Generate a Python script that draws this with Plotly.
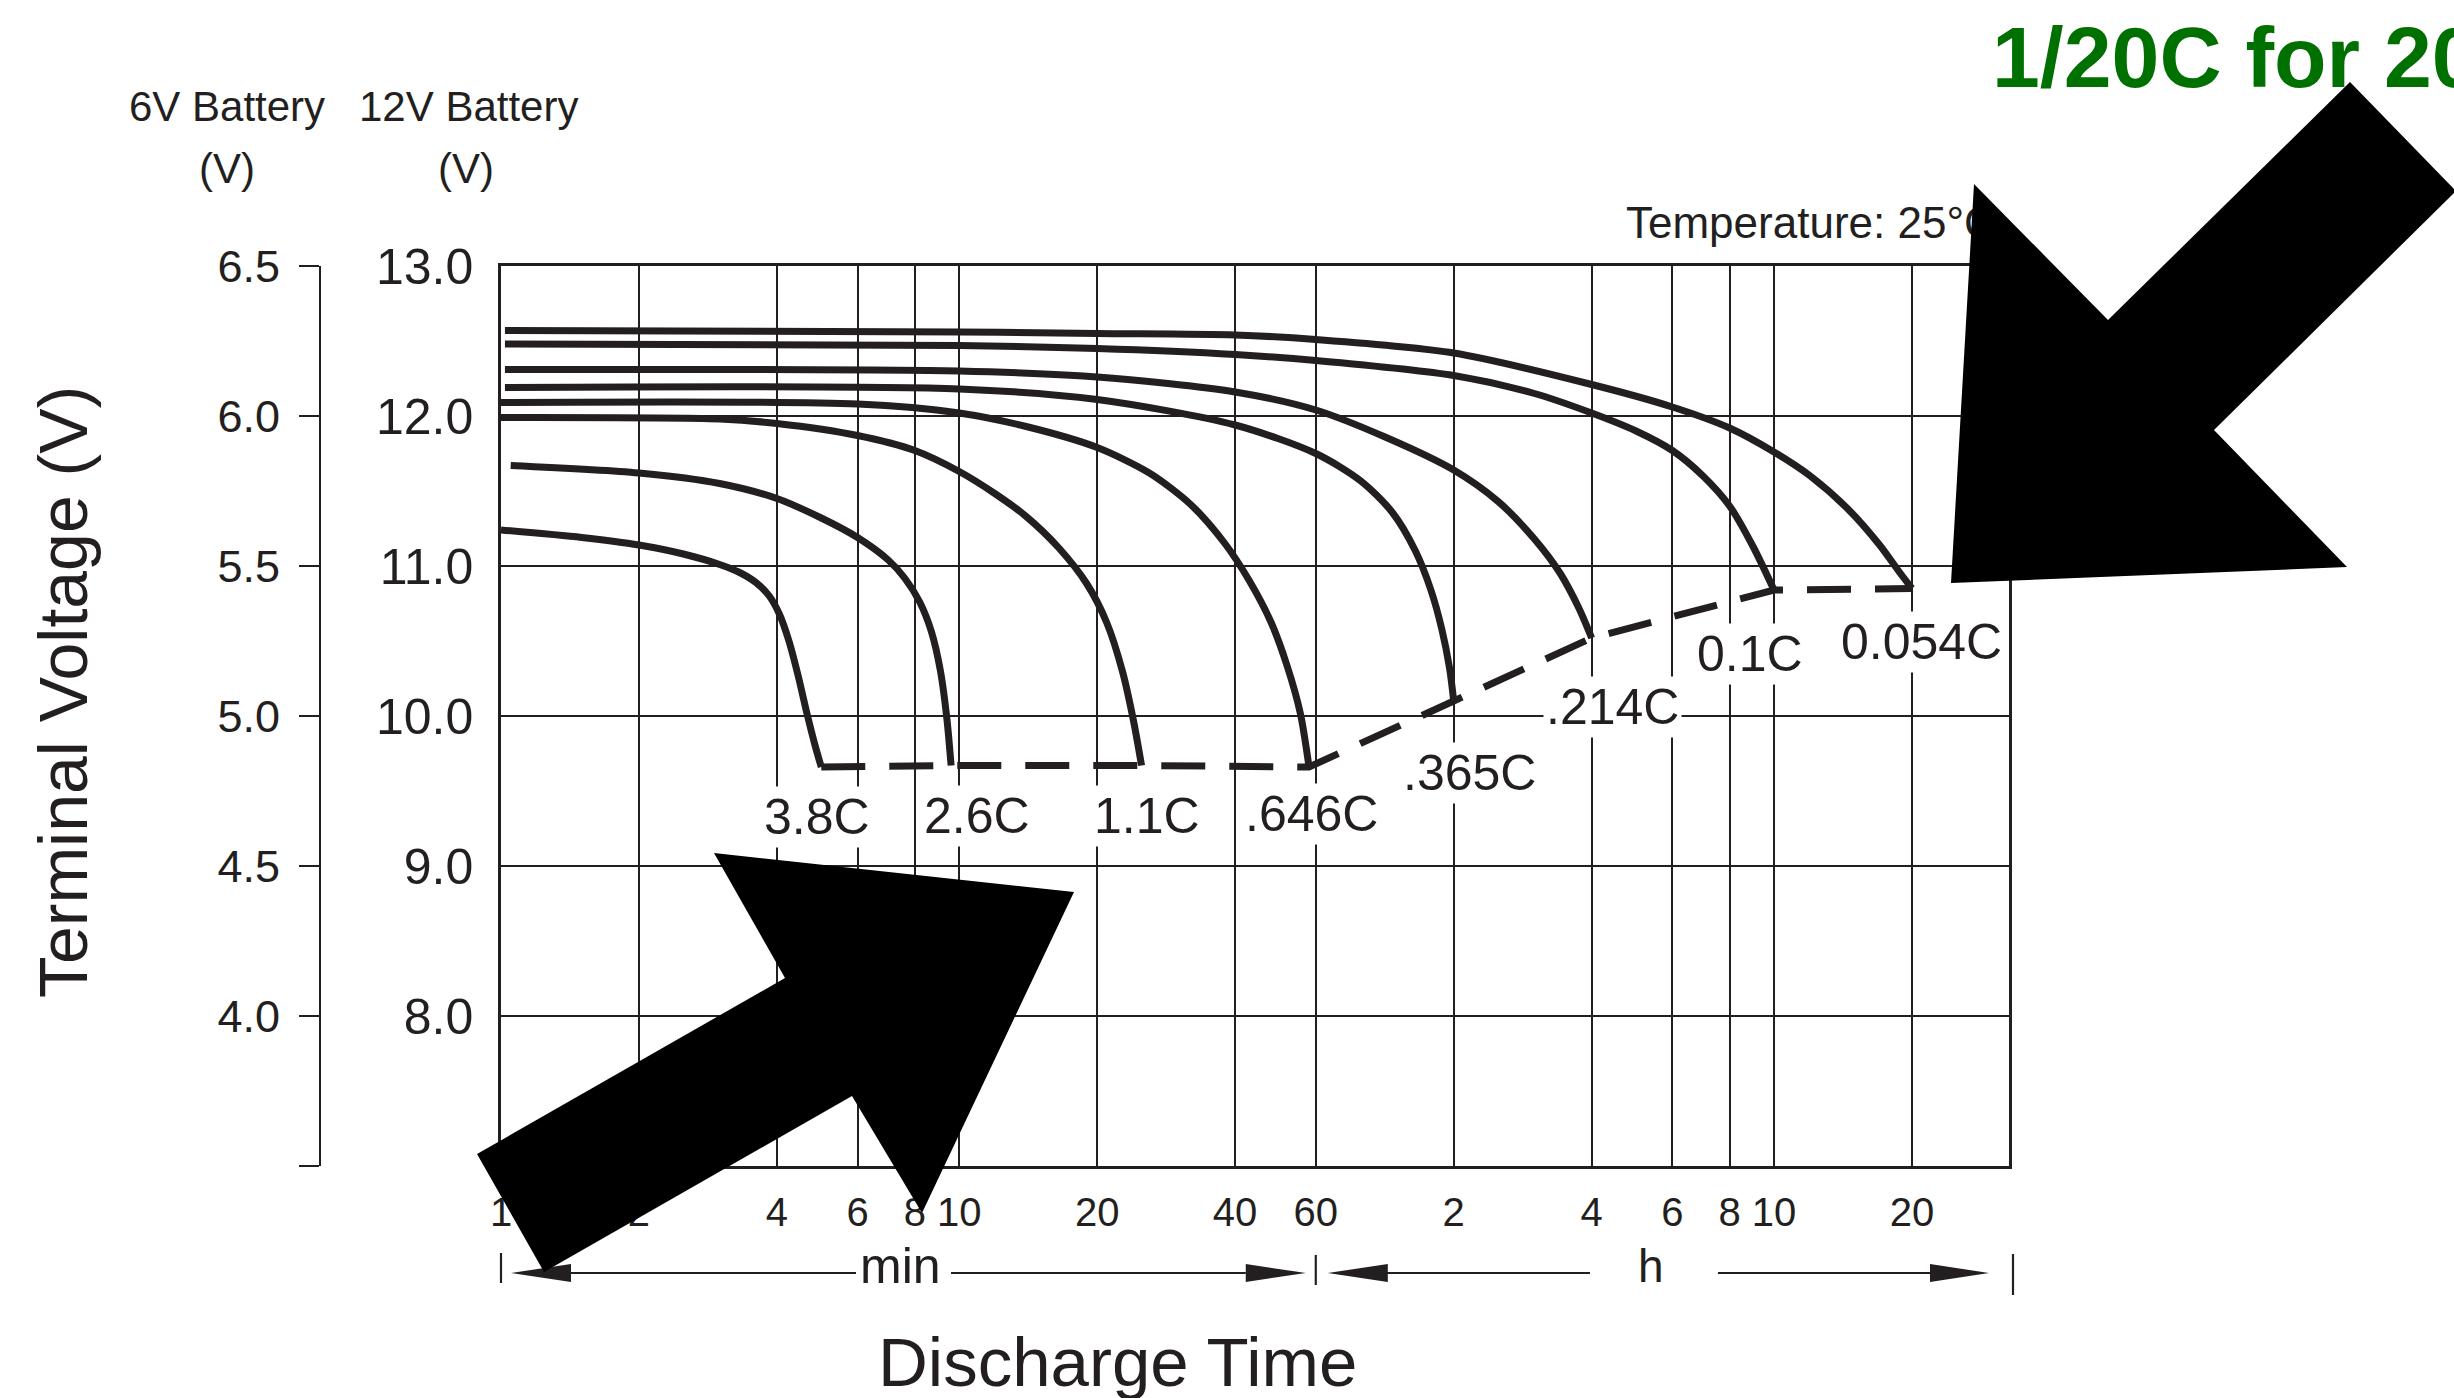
import math
import plotly.graph_objects as go

W, H = 2454, 1398
INK = "#231f20"
FONT = "Liberation Sans, Arial, sans-serif"

# Discharge curves of a 12 V battery: time (min) and terminal voltage (V)
rates = ["3.8C", "2.6C", "1.1C", ".646C", ".365C", ".214C", "0.1C", "0.054C"]

t_3_8 = [1.0, 1.5, 2.0, 2.5, 3.0, 3.3, 3.6, 3.85, 4.05, 4.25, 4.45, 4.65, 4.85, 5.0]
v_3_8 = [11.24, 11.19, 11.14, 11.08, 11.01, 10.96, 10.89, 10.80, 10.68, 10.50, 10.27, 10.02, 9.80, 9.66]

t_2_6 = [1.05, 2.0, 3.0, 4.0, 5.0, 6.0, 7.0, 7.6, 8.2, 8.7, 9.1, 9.4, 9.6]
v_2_6 = [11.67, 11.62, 11.55, 11.45, 11.32, 11.19, 11.04, 10.92, 10.76, 10.56, 10.30, 9.98, 9.67]

t_1_1 = [1.0, 3.0, 4.0, 6.0, 8.0, 10.0, 12.0, 14.0, 16.5, 19.0, 21.0, 22.7, 24.0, 25.0]
v_1_1 = [11.99, 11.98, 11.95, 11.87, 11.77, 11.63, 11.48, 11.33, 11.12, 10.88, 10.62, 10.30, 9.97, 9.67]

t_646 = [1.0, 6.0, 10.0, 14.0, 20.0, 26.0, 32.0, 38.0, 43.0, 48.0, 52.0, 55.5, 58.0]
v_646 = [12.09, 12.08, 12.02, 11.93, 11.79, 11.62, 11.41, 11.15, 10.90, 10.62, 10.33, 10.02, 9.66]

t_365 = [1.02, 10.0, 20.0, 40.0, 60.0, 75.0, 88.0, 99.0, 107.0, 113.0, 117.5, 120.0]
v_365 = [12.19, 12.18, 12.11, 11.94, 11.75, 11.57, 11.36, 11.10, 10.84, 10.58, 10.32, 10.10]

t_214 = [1.02, 10.0, 20.0, 40.0, 60.0, 85.0, 120.0, 150.0, 180.0, 205.0, 225.0, 240.0]
v_214 = [12.31, 12.30, 12.26, 12.16, 12.04, 11.86, 11.64, 11.43, 11.18, 10.95, 10.72, 10.52]

t_0_1 = [1.02, 10.0, 20.0, 40.0, 60.0, 120.0, 180.0, 240.0, 300.0, 360.0, 420.0, 480.0, 540.0, 600.0]
v_0_1 = [12.48, 12.47, 12.45, 12.41, 12.37, 12.27, 12.15, 12.02, 11.90, 11.77, 11.60, 11.40, 11.13, 10.84]

t_054 = [1.02, 10.0, 20.0, 40.0, 60.0, 120.0, 240.0, 360.0, 480.0, 600.0, 720.0, 870.0, 1020.0, 1120.0, 1200.0]
v_054 = [12.57, 12.56, 12.55, 12.54, 12.51, 12.42, 12.21, 12.06, 11.92, 11.76, 11.60, 11.38, 11.14, 10.97, 10.85]

curve_t = [t_3_8, t_2_6, t_1_1, t_646, t_365, t_214, t_0_1, t_054]
curve_v = [v_3_8, v_2_6, v_1_1, v_646, v_365, v_214, v_0_1, v_054]

# Time axis ticks (minutes), labelled in min then h
tick_min = [1, 2, 4, 6, 8, 10, 20, 40, 60, 120, 240, 360, 480, 600, 1200]
tick_txt = ["1", "2", "4", "6", "8", "10", "20", "40", "60", "2", "4", "6", "8", "10", "20"]

v12_ticks = [8, 9, 10, 11, 12, 13]
v6_ticks = [3.5, 4.0, 4.5, 5.0, 5.5, 6.0, 6.5]

# plot area in pixels
X0, X1 = 501, 2009
Y_TOP, Y_BOT = 266, 1166
XR = [0, 3.291]
YR = [7, 13]


def px(x):
    return x / W


def py(y):
    return 1 - y / H


def t2px(t):
    return X0 + (math.log10(t) - XR[0]) / (XR[1] - XR[0]) * (X1 - X0)


fig = go.Figure()

for tt, vv in zip(curve_t, curve_v):
    fig.add_trace(go.Scatter(x=tt, y=vv, mode="lines",
                             line=dict(color=INK, width=7, shape="spline", smoothing=0.8),
                             hoverinfo="skip", showlegend=False))

# end-of-discharge line through the last point of every curve
end_t = [tt[-1] for tt in curve_t]
end_v = [vv[-1] for vv in curve_v]
fig.add_trace(go.Scatter(x=end_t, y=end_v, mode="lines",
                         line=dict(color=INK, width=7, dash="44px,24px"),
                         hoverinfo="skip", showlegend=False))

# binds the 6 V scale
fig.add_trace(go.Scatter(x=[], y=[], yaxis="y2", showlegend=False, hoverinfo="skip"))

# temperature note: drawn on a hidden pixel-scaled strip above the chart so
# that the pointer arrow (a shape above the trace layer) overlaps it
fig.add_trace(go.Scatter(x=[1626], y=[227], mode="text", xaxis="x2", yaxis="y3",
                         text=["Temperature: 25°C"], textposition="middle right",
                         textfont=dict(family=FONT, size=44, color=INK),
                         cliponaxis=False, hoverinfo="skip", showlegend=False))

# rate labels under each end point
label_shift = [(-4, -50), (26, -50), (5, -50), (2, -47), (16, -72), (21, -69), (-24, -64), (10, -53)]
annotations = []
for name, t, v, (dx, dy) in zip(rates, end_t, end_v, label_shift):
    annotations.append(dict(x=math.log10(t), y=v, xref="x", yref="y", text=name,
                            showarrow=False, xshift=dx, yshift=dy,
                            font=dict(family=FONT, size=50, color=INK),
                            bgcolor="white", borderpad=2))


def text(x, y, s, size, color=INK, xanchor="center", angle=0, bold=False):
    if bold:
        s = "<b>" + s + "</b>"
    annotations.append(dict(x=px(x), y=py(y), xref="paper", yref="paper", text=s,
                            showarrow=False, xanchor=xanchor, yanchor="middle",
                            textangle=angle, font=dict(family=FONT, size=size, color=color)))


text(227, 106, "6V Battery", 42)
text(227, 169, "(V)", 42)
text(468, 106, "12V Battery", 42)
text(466, 169, "(V)", 42)
text(63, 692, "Terminal Voltage (V)", 68, angle=-90)
text(1117, 1362, "Discharge Time", 69)
text(900, 1266, "min", 50)
text(1651, 1266, "h", 46)
text(1990, 57, "1/20C for 20 hours", 86, color="#007000", xanchor="left", bold=True)

shapes = []


def poly(points, color="#000000"):
    d = "M " + " L ".join(f"{px(x):.5f},{py(y):.5f}" for x, y in points) + " Z"
    shapes.append(dict(type="path", path=d, xref="paper", yref="paper",
                       fillcolor=color, line=dict(width=0), layer="above"))


def seg(x0, y0, x1, y1, w=2.2):
    shapes.append(dict(type="line", x0=px(x0), y0=py(y0), x1=px(x1), y1=py(y1),
                       xref="paper", yref="paper", line=dict(color=INK, width=w)))


# min / h brackets below the time axis
YB = 1273
b1, b2, b3 = t2px(1), t2px(60), X1 + 4
seg(b1, 1253, b1, 1283)
seg(b2, 1255, b2, 1285)
seg(b3, 1254, b3, 1295)
seg(b1 + 65, YB, 856, YB)
seg(951, YB, b2 - 70, YB)
seg(b2 + 70, YB, 1590, YB)
seg(1718, YB, b3 - 80, YB)
poly([(b1 + 10, YB), (b1 + 70, YB - 9), (b1 + 70, YB + 9)], INK)
poly([(b2 - 10, YB), (b2 - 70, YB - 9), (b2 - 70, YB + 9)], INK)
poly([(b2 + 12, YB), (b2 + 72, YB - 9), (b2 + 72, YB + 9)], INK)
poly([(b3 - 24, YB), (b3 - 83, YB - 9), (b3 - 83, YB + 9)], INK)

# two large pointer arrows
poly([(477, 1154), (785, 978), (714, 853), (1074, 892), (922, 1213), (852, 1096), (544, 1272)])
poly([(1951, 583), (1974, 184), (2108, 320), (2350, 82), (2456, 191), (2214, 430), (2347, 567)])

fig.update_layout(
    width=W, height=H, autosize=False,
    margin=dict(l=0, r=0, t=0, b=0, pad=0),
    paper_bgcolor="white", plot_bgcolor="white",
    showlegend=False,
    annotations=annotations, shapes=shapes,
    xaxis=dict(type="log", range=XR, domain=[px(X0), px(X1)], automargin=False,
               tickvals=tick_min, ticktext=tick_txt, ticks="",
               showgrid=True, gridcolor=INK, gridwidth=1.8,
               showline=True, linecolor=INK, linewidth=2.5, mirror=True,
               zeroline=False, ticklabelstandoff=9,
               tickfont=dict(family=FONT, size=40, color=INK)),
    yaxis=dict(range=YR, domain=[py(Y_BOT), py(Y_TOP)], automargin=False,
               tickvals=v12_ticks, ticktext=[f"{v:.1f}" for v in v12_ticks], ticks="",
               showgrid=True, gridcolor=INK, gridwidth=1.8,
               showline=True, linecolor=INK, linewidth=2.5, mirror=True,
               zeroline=False, ticklabelstandoff=15,
               tickfont=dict(family=FONT, size=50, color=INK)),
    yaxis2=dict(range=[3.5, 6.5], overlaying="y", anchor="free", position=px(320), side="left",
                automargin=False,
                tickvals=v6_ticks, ticktext=["" if v == 3.5 else f"{v:.1f}" for v in v6_ticks],
                ticks="outside", ticklen=20, tickwidth=2, tickcolor=INK,
                showline=True, linecolor=INK, linewidth=2, showgrid=False, zeroline=False,
                ticklabelstandoff=10,
                tickfont=dict(family=FONT, size=45, color=INK)),
    xaxis2=dict(domain=[px(1500), px(2300)], range=[1500, 2300], anchor="y3",
                visible=False, automargin=False),
    yaxis3=dict(domain=[py(260), py(150)], range=[260, 150], anchor="x2",
                visible=False, automargin=False),
)

fig.write_html("out.html")
